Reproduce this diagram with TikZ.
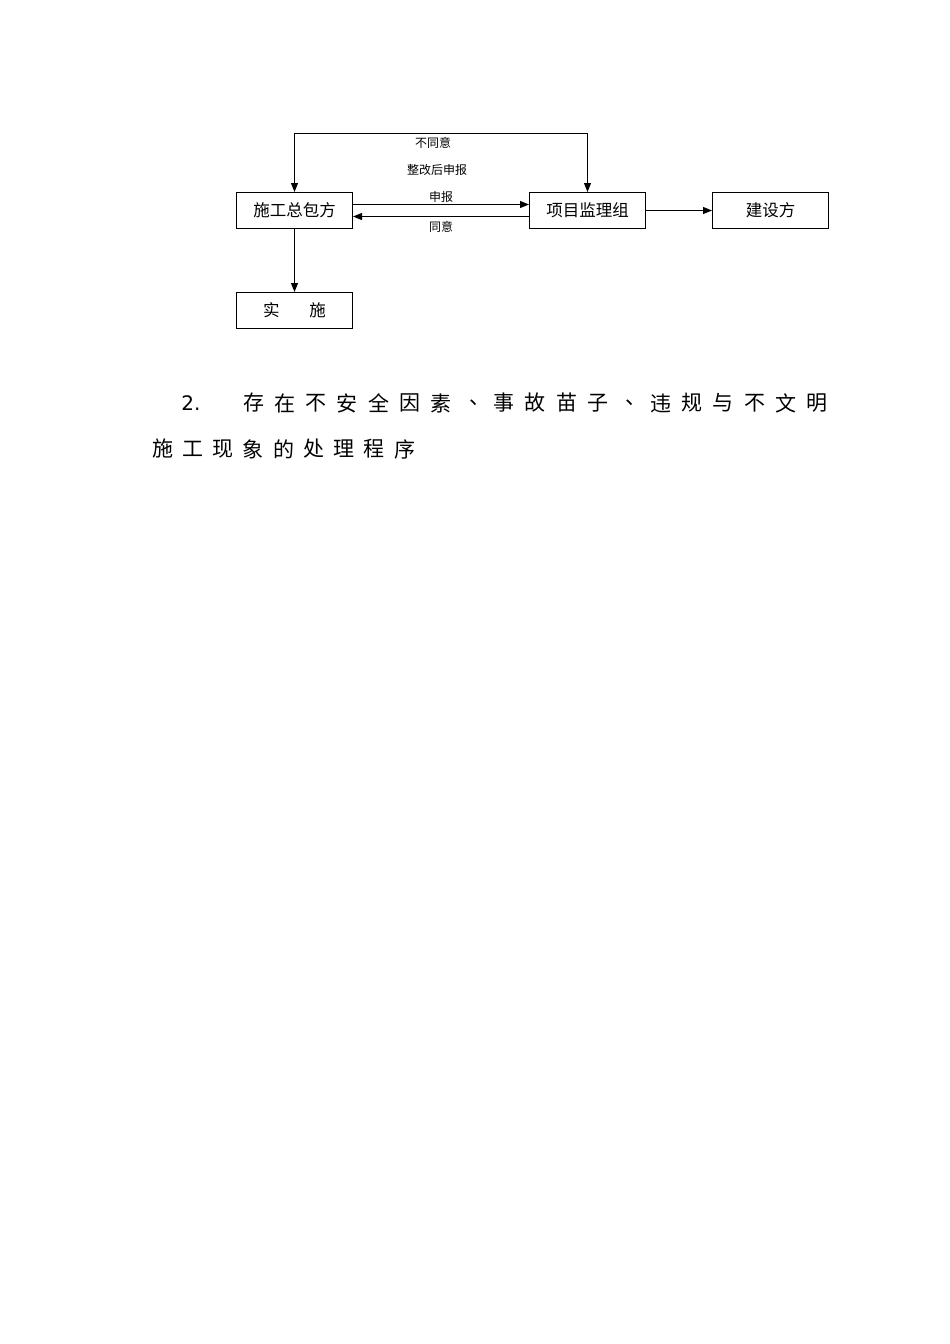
\documentclass[tikz,border=0pt]{standalone}
\usepackage{fontspec}
\setmainfont{Noto Sans CJK SC}
\newfontfamily\numfont{DejaVu Sans}
\usetikzlibrary{arrows.meta,positioning}

\begin{document}
\begin{tikzpicture}[
  x=1pt, y=-1pt,
  st/.style={draw, line width=1pt, minimum width=116pt, minimum height=36pt, inner sep=0pt, font=\fontsize{16.5}{16.5}\selectfont},
  arr/.style={-{Triangle[length=9pt,width=7pt]}, line width=1pt},
  lab/.style={font=\fontsize{12}{12}\selectfont, inner sep=1pt},
  txt/.style={font=\fontsize{21}{21}\selectfont, inner sep=0pt}
]
\useasboundingbox (0,0) rectangle (950,1344);

\node[st] (zb) at (294.5,210.5) {施工总包方};
\node[st, right=176pt of zb] (jl) {项目监理组};
\node[st, right=66pt of jl] (js) {建设方};
\node[st, below=63pt of zb] (ss) {实\hspace{1.8em}施};

\draw[arr] ([yshift=6pt]zb.east) -- node[lab, above=1pt] {申报} ([yshift=6pt]jl.west);
\draw[arr] ([yshift=-6pt]jl.west) -- node[lab, below=3pt] {同意} ([yshift=-6pt]zb.east);
\draw[arr] (jl) -- (js);
\draw[arr] (zb) -- (ss);
\draw[arr, {Triangle[length=9pt,width=7pt]}-{Triangle[length=9pt,width=7pt]}] (zb.north) -- ++(0,-59) -| (jl.north);

\node[lab] (bty) at (433,143) {不同意};
\node[lab] (zgsb) at (437,170) {整改后申报};

% heading below the chart
\node[txt, font=\fontsize{20}{20}\numfont] (num) at (191,403) {2.};
\foreach \c/\dx [count=\i] in {存/0,在/0,不/0,安/0,全/0,因/0,素/0,、/7,事/0,故/0,苗/0,子/0,、/7,违/0,规/0,与/0,不/0,文/0,明/0}
  \node[txt, xshift=\dx pt] (ha\i) at (253.5+31.33*\i-31.33,403) {\c};
\foreach \c [count=\i] in {施,工,现,象,的,处,理,程,序}
  \node[txt] (hb\i) at (162.5+30.25*\i-30.25,449) {\c};
\end{tikzpicture}
\end{document}
